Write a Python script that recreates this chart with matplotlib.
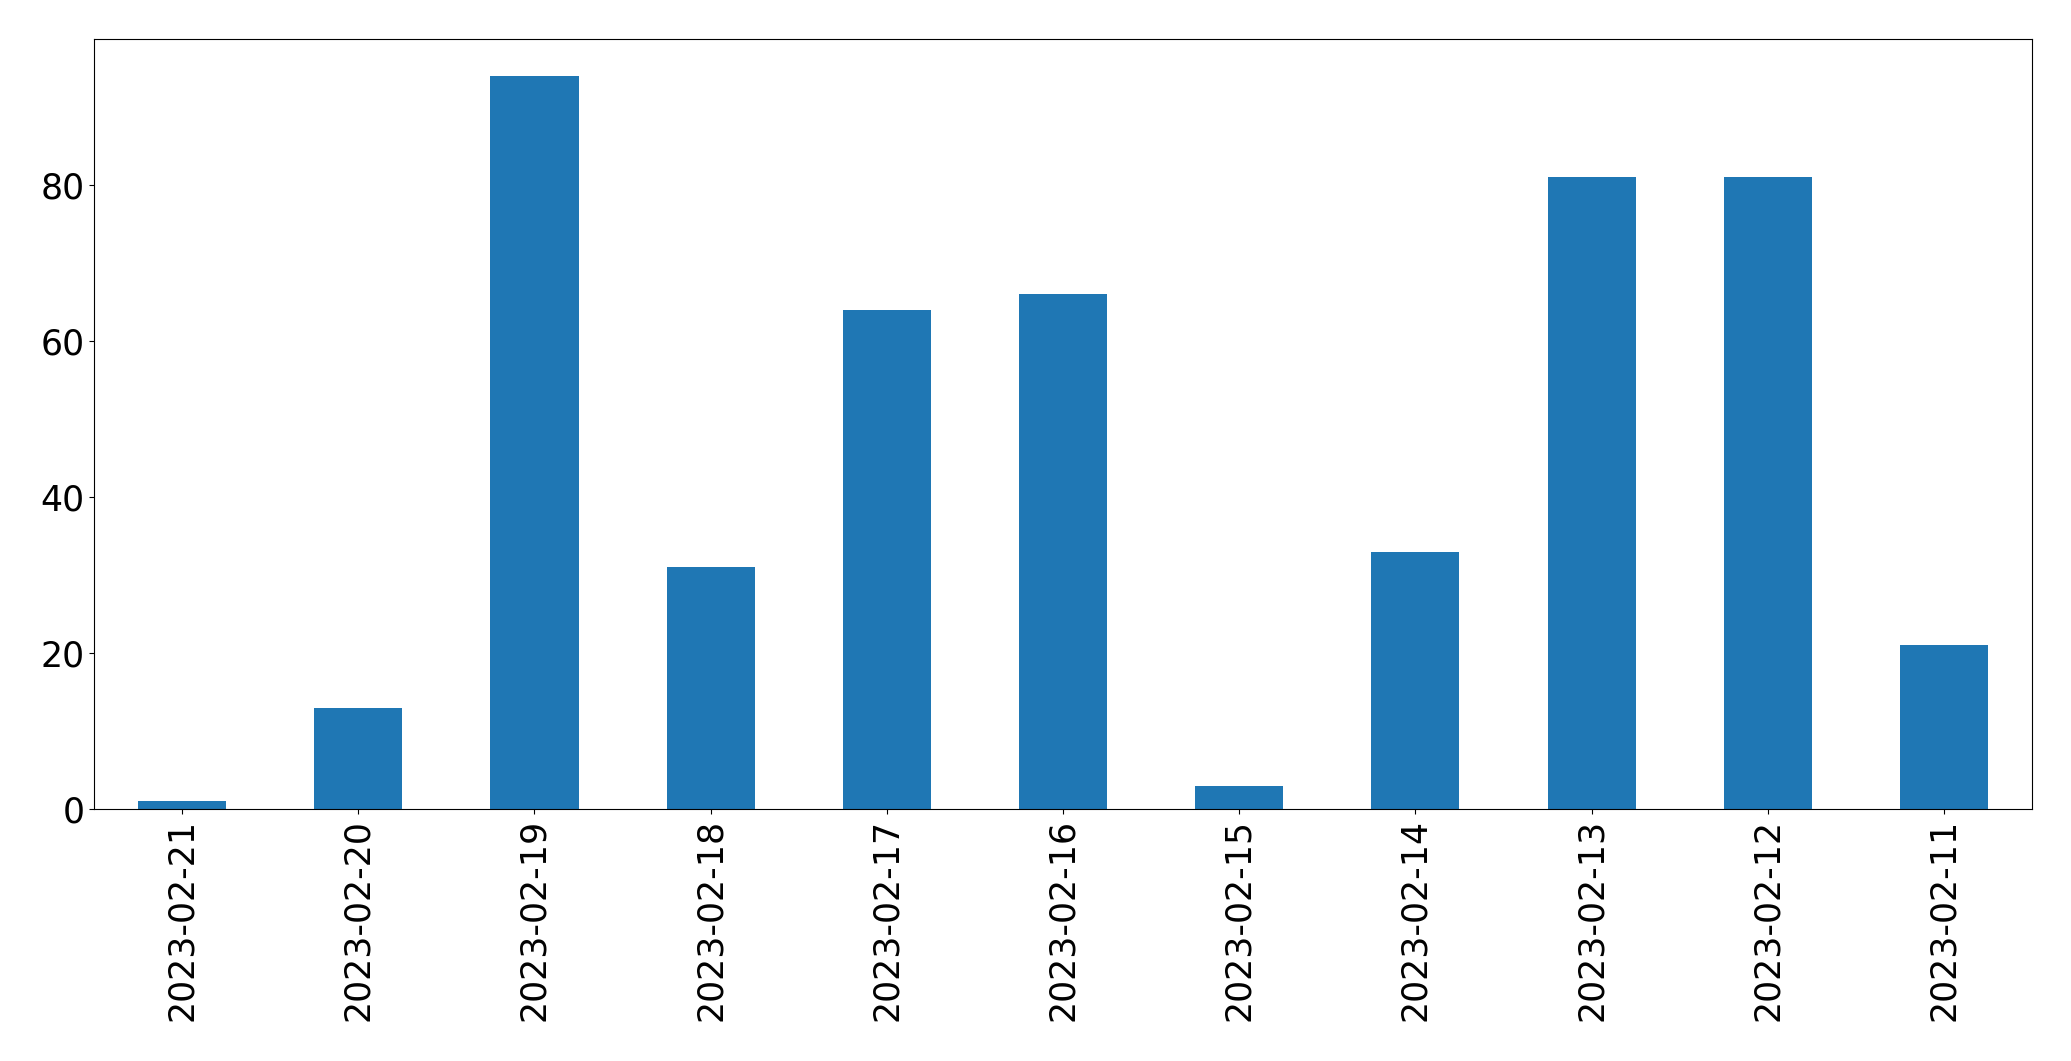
import matplotlib
matplotlib.use("Agg")
from matplotlib import pyplot as plt
import pandas as pd

dates = ['2023-02-21', '2023-02-20', '2023-02-19', '2023-02-18', '2023-02-17', '2023-02-16',
         '2023-02-15', '2023-02-14', '2023-02-13', '2023-02-12', '2023-02-11']
counts = [1, 13, 94, 31, 64, 66, 3, 33, 81, 81, 21]

s = pd.Series(counts, index=dates)

fig = plt.figure(figsize=(20.71, 10.61), dpi=100)
ax = fig.add_axes([94 / 2071, 1 - 809 / 1061, (2032 - 94) / 2071, (809 - 39) / 1061])
s.plot(kind='bar', ax=ax, fontsize=25)

fig.savefig('out.png', dpi=100)
